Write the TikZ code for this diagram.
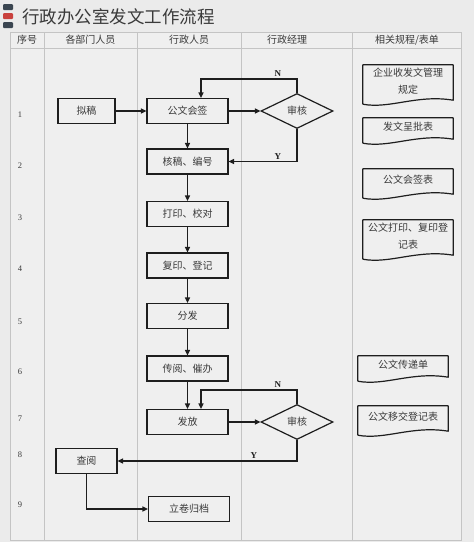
\documentclass[tikz,border=0pt]{standalone}
\usepackage{fontspec}
\setmainfont{Liberation Serif}
\newfontfamily\cjk{Noto Sans CJK SC}
\usetikzlibrary{arrows.meta,shapes.geometric,calc}
\definecolor{paper}{HTML}{EBEBEB}
\definecolor{cell}{HTML}{EFEFEF}
\definecolor{gridGray}{HTML}{C4C4C4}
\definecolor{ink}{HTML}{1E1E1E}
\definecolor{textGray}{HTML}{3A3A3A}
\definecolor{markDark}{HTML}{3B4651}
\definecolor{markRed}{HTML}{C9413D}

\begin{document}
\begin{tikzpicture}[
  x=1pt, y=-1pt,
  grid/.style={draw=gridGray, line width=0.6pt},
  title/.style={font=\cjk\fontsize{17.5}{20}\selectfont, text=textGray, anchor=west, inner sep=0pt},
  head/.style={font=\cjk\fontsize{10}{11}\selectfont, text=textGray},
  rowno/.style={font=\fontsize{8.5}{10}\selectfont, text=textGray},
  procbox/.style={draw=ink, line width=1.2pt, fill=cell, minimum width=81pt, minimum height=25pt,
    inner sep=1pt, font=\cjk\fontsize{10}{11}\selectfont, text=textGray},
  checknode/.style={diamond, aspect=2.06, draw=ink, line width=1.2pt, fill=cell, inner sep=0pt,
    minimum width=72pt, minimum height=35pt, font=\cjk\fontsize{10}{11}\selectfont, text=textGray},
  docnode/.style={minimum width=90pt, inner sep=1pt, align=center,
    font=\cjk\fontsize{10}{17.5}\selectfont, text=textGray},
  docline/.style={draw=ink, line width=1.2pt, line join=round},
  flow/.style={-{Triangle[length=5.5pt,width=5pt]}, line width=1.2pt, draw=ink},
  yn/.style={font=\bfseries\fontsize{9}{10}\selectfont, text=ink, inner sep=1.5pt}
]
\useasboundingbox (0,0) rectangle (474,542);
\fill[paper] (0,0) rectangle (474,542);

% ------------------------------------------------------------------
% Title
% ------------------------------------------------------------------
\fill[markDark, rounded corners=1pt] (3,4) rectangle (13,10);
\fill[markRed, rounded corners=1pt] (3,13) rectangle (13,19);
\fill[markDark, rounded corners=1pt] (3,22) rectangle (13,28);
\node[title] (ttl) at (22,17) {行政办公室发文工作流程};

% ------------------------------------------------------------------
% Table frame and header
% ------------------------------------------------------------------
\fill[cell] (10,32) rectangle (461,540);
\draw[grid] (10,32) rectangle (461,540);
\draw[grid] (10,48) -- (461,48);
\foreach \x in {44,137,241,352} {
  \draw[grid] (\x,32) -- (\x,540);
}
\node[head] (hno) at (27,40) {序号};
\node[head] (hdept) at (90.5,40) {各部门人员};
\node[head] (hstaff) at (189,40) {行政人员};
\node[head] (hmgr) at (287,40) {行政经理};
\node[head] (hdoc) at (407,40) {相关规程/表单};

\foreach \n/\y in {1/115,2/166,3/218,4/269,5/322,6/372,7/419,8/455,9/505} {
  \node[rowno] (row\n) at (20,\y) {\n};
}

% ------------------------------------------------------------------
% Flow steps
% ------------------------------------------------------------------
\node[procbox, minimum width=57pt] (draft) at (86.5,111) {拟稿};
\node[procbox] (sign) at (187.5,111) {公文会签};
\node[checknode] (chk1) at (297,111) {审核};
\node[procbox] (proof) at (187.5,161.5) {核稿、编号};
\node[procbox] (print) at (187.5,214) {打印、校对};
\node[procbox] (copy) at (187.5,265.5) {复印、登记};
\node[procbox] (dist) at (187.5,316) {分发};
\node[procbox] (circ) at (187.5,368.5) {传阅、催办};
\node[procbox] (issue) at (187.5,422) {发放};
\node[checknode] (chk2) at (297,422) {审核};
\node[procbox, minimum width=61pt] (read) at (86.5,461) {查阅};
\node[procbox] (file) at (189,509) {立卷归档};

\coordinate (back1) at (201,79);
\coordinate (back2) at (201,390);

\draw[flow] (draft) -- (sign);
\draw[flow] (sign) -- (chk1);
\draw[flow] (chk1.north) |- node[yn, above, pos=0.6] {N} (back1) -- (back1 |- sign.north);
\draw[flow] (chk1.south) |- node[yn, above, pos=0.64] {Y} (proof.east);
\draw[flow] (sign) -- (proof);
\draw[flow] (proof) -- (print);
\draw[flow] (print) -- (copy);
\draw[flow] (copy) -- (dist);
\draw[flow] (dist) -- (circ);
\draw[flow] (circ) -- (issue);
\draw[flow] (issue) -- (chk2);
\draw[flow] (chk2.north) |- node[yn, above, pos=0.6] {N} (back2) -- (back2 |- issue.north);
\draw[flow] (chk2.south) |- node[yn, above, pos=0.62] {Y} (read.east);
\draw[flow] (read.south) |- (file.west);

% ------------------------------------------------------------------
% Related rules and forms
% ------------------------------------------------------------------
\node[docnode, minimum height=32pt] (rulesdoc) at (408,81) {企业收发文管理\\规定};
\node[docnode, minimum height=18pt] (approvedoc) at (408,127) {发文呈批表};
\node[docnode, minimum height=22pt] (signdoc) at (408,180) {公文会签表};
\node[docnode, minimum height=32pt] (printdoc) at (408,236) {公文打印、复印登\\记表};
\node[docnode, minimum height=18pt] (passdoc) at (403,365) {公文传递单};
\node[docnode, minimum height=22pt] (handdoc) at (403,417) {公文移交登记表};

\foreach \d in {rulesdoc,approvedoc,signdoc,printdoc,passdoc,handdoc} {
  \draw[docline] ($(\d.south west)+(0,7)$) -- (\d.north west) -- (\d.north east) -- ($(\d.south east)+(0,3)$)
    .. controls ($(\d.south west)!0.6!(\d.south east)+(0,-3)$) and ($(\d.south west)!0.3!(\d.south east)+(0,12)$) .. ($(\d.south west)+(0,7)$);
}

\end{tikzpicture}
\end{document}
